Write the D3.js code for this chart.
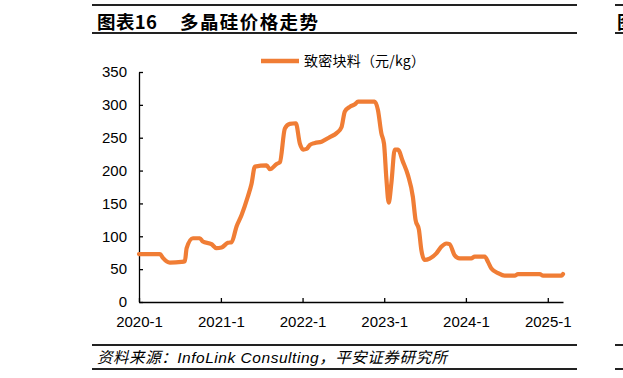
<!DOCTYPE html>
<html><head><meta charset="utf-8">
<script src="https://cdn.jsdelivr.net/npm/d3@7/dist/d3.min.js"></script>
<style>body{margin:0;background:#fff} svg{display:block}</style>
</head><body>
<svg id="c" width="623" height="378"></svg>
<script>
// ---- data ----
const dates = ["2020-01-01","2020-04-04","2020-04-17","2020-05-18","2020-07-09","2020-07-24","2020-08-01","2020-08-29","2020-09-29","2020-10-12","2020-11-20","2020-12-12","2021-01-04","2021-02-01","2021-02-18","2021-03-12","2021-04-03","2021-05-01","2021-05-18","2021-06-02","2021-07-24","2021-08-08","2021-09-07","2021-09-22","2021-10-14","2021-11-05","2021-12-02","2021-12-20","2022-01-04","2022-01-19","2022-02-03","2022-02-25","2022-03-27","2022-05-03","2022-06-02","2022-06-24","2022-07-09","2022-07-31","2022-08-23","2022-09-06","2022-11-19","2022-12-04","2022-12-19","2022-12-31","2023-01-11","2023-01-21","2023-02-02","2023-02-17","2023-03-03","2023-03-25","2023-04-17","2023-05-09","2023-05-21","2023-06-05","2023-06-16","2023-06-30","2023-07-23","2023-08-22","2023-09-13","2023-10-06","2023-10-20","2023-11-12","2023-12-04","2024-01-25","2024-02-09","2024-03-25","2024-04-09","2024-04-24","2024-05-24","2024-06-22","2024-08-06","2024-08-21","2024-11-26","2024-12-11","2025-03-03","2025-03-10"];
const prices = [73,73,67,60,61,62,82,97,97,92,88,82,83,90,91,115,132,160,180,206,208,202,210,213,264,271,272,241,232,233,239,242,244,251,257,266,290,297,301,305,305,292,257,241,186,151,181,232,232,214,193,160,125,110,79,64,66,74,84,89,88,71,66.5,66.5,69,69,61,51,44,40,40,42.5,42.5,40,40,42.5];
const yTicks = [0,50,100,150,200,250,300,350];
const xTickDates = ["2020-01-01","2021-01-01","2022-01-01","2023-01-01","2024-01-01","2025-01-01"];
const titleNo = "图表16";
const titleText = "多晶硅价格走势";
const seriesName = "致密块料（元/kg）";
const sourceText = "资料来源：InfoLink Consulting，平安证券研究所";

// ---- drawing ----
const parse = d3.timeParse("%Y-%m-%d");
const svg = d3.select("#c");
const color = "#F07D35";
const data = dates.map((d,i)=>({date:parse(d), v:prices[i]}));

const x = d3.scaleTime().domain([parse("2020-01-01"), parse("2025-03-10")]).range([139, 563]);
const y = d3.scaleLinear().domain([0,350]).range([302, 72]);

// header / footer rules
function rule(x1,x2,yy){ svg.append("line").attr("x1",x1).attr("x2",x2).attr("y1",yy).attr("y2",yy).attr("stroke","#222").attr("stroke-width",2); }
rule(92,577,5); rule(92,577,33); rule(92,577,345); rule(92,577,369);
rule(615,623,5); rule(615,623,33); rule(615,623,345); rule(615,623,369);

svg.append("text").attr("x",97).attr("y",29).attr("font-family","'Noto Sans CJK SC'").attr("font-weight","bold").attr("font-size",18.5)
  .attr("textLength",60).attr("lengthAdjust","spacing").text(titleNo);
svg.append("text").attr("x",180).attr("y",29).attr("font-family","'Noto Sans CJK SC'").attr("font-weight","bold").attr("font-size",18.5)
  .attr("textLength",138).attr("lengthAdjust","spacing").text(titleText);
svg.append("text").attr("x",617).attr("y",29).attr("font-family","'Noto Sans CJK SC'").attr("font-weight","bold").attr("font-size",18.5).text("图");

svg.append("text").attr("x",97).attr("y",363).attr("font-family","'Liberation Sans','Noto Sans CJK SC'").attr("font-style","italic").attr("font-size",15.5)
  .attr("textLength",350).attr("lengthAdjust","spacing").text(sourceText);

// axes
const yAxis = d3.axisLeft(y).tickValues(yTicks).tickSizeInner(-4).tickSizeOuter(0).tickPadding(12);
const gy = svg.append("g").attr("transform","translate(139,0)").call(yAxis);
const xAxis = d3.axisBottom(x).tickValues(xTickDates.map(parse)).tickFormat(d3.timeFormat("%Y-%-m")).tickSizeInner(-4).tickSizeOuter(0).tickPadding(14);
const gx = svg.append("g").attr("transform","translate(0,302)").call(xAxis);
[gx,gy].forEach(g=>{
  g.selectAll("path,line").attr("stroke","#000").attr("stroke-width",1.3);
  g.selectAll("text").attr("font-family","'Liberation Sans',Arial,sans-serif").attr("font-size",15).attr("fill","#000");
});

// line
const line = d3.line().x(d=>x(d.date)).y(d=>y(d.v)).curve(d3.curveMonotoneX);
svg.append("path").datum(data).attr("d",line).attr("fill","none").attr("stroke",color).attr("stroke-width",4.2).attr("stroke-linejoin","round").attr("stroke-linecap","round");

// legend
svg.append("line").attr("x1",261).attr("x2",299).attr("y1",61).attr("y2",61).attr("stroke",color).attr("stroke-width",4.5);
svg.append("text").attr("x",304).attr("y",66).attr("font-family","'Noto Sans CJK SC'").attr("font-size",14).attr("fill","#000")
  .attr("textLength",121).attr("lengthAdjust","spacing").text(seriesName);
</script>
</body></html>
